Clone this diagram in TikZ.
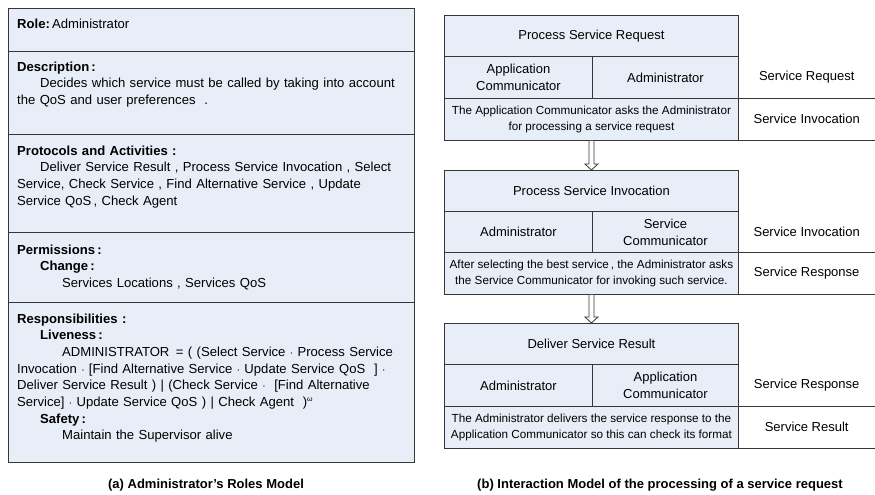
\documentclass[tikz,border=0pt]{standalone}
\usepackage{fontspec}
\setmainfont{Liberation Sans}
\usetikzlibrary{calc}
\definecolor{cellfill}{RGB}{232,238,247}
\definecolor{rulecol}{RGB}{55,55,55}
\newcommand{\omegasup}{\raisebox{5.5pt}{\fontsize{7}{7}\selectfont ω}}
\begin{document}
\begin{tikzpicture}[x=1pt,y=-1pt,
  sect/.style={draw=rulecol, line width=1.1pt, fill=cellfill, anchor=north west,
    inner sep=0pt, minimum width=406pt},
  secttext/.style={anchor=base west, inner sep=0pt, text width=392pt, align=left,
    font=\fontsize{13.1}{16.7}\selectfont},
  cell/.style={draw=rulecol, line width=0.9pt, fill=cellfill, anchor=north west,
    inner sep=0pt, align=center, font=\fontsize{13}{17}\selectfont},
  note/.style={cell, font=\fontsize{11.7}{15.5}\selectfont},
  side/.style={anchor=north west, inner sep=0pt, minimum width=137pt,
    minimum height=42pt, align=center, font=\fontsize{13}{17}\selectfont},
  sideline/.style={draw=rulecol, line width=0.9pt},
  caption/.style={inner sep=0pt, font=\bfseries\fontsize{13}{15}\selectfont},
  hollow/.style={draw=rulecol, line width=0.8pt, fill=white, line join=miter}]

\useasboundingbox (0,0) rectangle (875,495);

% ---------- (a) roles model ----------
\node[sect, minimum height=43pt]  (role) at (8,8)   {};
\node[sect, minimum height=83pt]  (desc) at (8,51)  {};
\node[sect, minimum height=98pt]  (prot) at (8,134) {};
\node[sect, minimum height=70pt]  (perm) at (8,232) {};
\node[sect, minimum height=160pt] (resp) at (8,302) {};

\node[secttext] (roletxt) at (17,29) {\textbf{Role:}\,Administrator};
\node[secttext] (desctxt) at (17,71) {\textbf{Description\,:}\\
  \hspace*{23pt}Decides which service must be called by taking into account\\
  the QoS and user preferences\ \ .};
\node[secttext] (prottxt) at (17,155) {\textbf{Protocols and Activities\ :}\\
  \hspace*{23pt}Deliver Service Result\ , Process Service Invocation\ , Select\\
  Service, Check Service\ , Find Alternative Service\ , Update\\
  Service QoS\,, Check Agent};
\node[secttext] (permtxt) at (17,254) {\textbf{Permissions\,:}\\
  \hspace*{23pt}\textbf{Change\,:}\\
  \hspace*{45pt}Services Locations\ , Services QoS};
\node[secttext] (resptxt) at (17,323) {\textbf{Responsibilities\ :}\\
  \hspace*{23pt}\textbf{Liveness\,:}\\
  \hspace*{45pt}ADMINISTRATOR\ \,= ( (Select Service $\cdot$ Process Service\\
  Invocation $\cdot$\ [Find Alternative Service $\cdot$ Update Service QoS\ \ ] $\cdot$\\
  Deliver Service Result ) | (Check Service $\cdot$\ \ [Find Alternative\\
  Service] $\cdot$ Update Service QoS ) | Check Agent\ \ )\omegasup\\
  \hspace*{23pt}\textbf{Safety\,:}\\
  \hspace*{45pt}Maintain the Supervisor alive};

\node[caption] (capa) at (206,485) {(a) Administrator's Roles Model};

% ---------- (b) interaction model ----------
% Process Service Request
\node[cell, minimum width=294pt, minimum height=41pt] (t1) at (444,15) {Process Service Request};
\node[cell, minimum width=148pt, minimum height=42pt] (a1) at (444,56) {Application\\Communicator};
\node[cell, minimum width=146pt, minimum height=42pt] (b1) at (592,56) {Administrator};
\node[note, minimum width=294pt, minimum height=42pt] (n1) at (444,98)
  {The Application Communicator asks the Administrator\\for processing a service request};
\node[side] (s1) at (738,56) {Service Request};
\node[side] (r1) at (738,98) {Service Invocation};
\draw[sideline] (r1.north west) -- (r1.north east) (r1.south west) -- (r1.south east);

% Process Service Invocation
\node[cell, minimum width=294pt, minimum height=41pt] (t2) at (444,170) {Process Service Invocation};
\node[cell, minimum width=148pt, minimum height=41pt] (a2) at (444,211) {Administrator};
\node[cell, minimum width=146pt, minimum height=41pt] (b2) at (592,211) {Service\\Communicator};
\node[note, minimum width=294pt, minimum height=42pt] (n2) at (444,252)
  {After selecting the best service\,, the Administrator asks\\the Service Communicator for invoking such service.};
\node[side, minimum height=41pt] (s2) at (738,211) {Service Invocation};
\node[side] (r2) at (738,252) {Service Response};
\draw[sideline] (r2.north west) -- (r2.north east) (r2.south west) -- (r2.south east);

% Deliver Service Result
\node[cell, minimum width=294pt, minimum height=41pt] (t3) at (444,323) {Deliver Service Result};
\node[cell, minimum width=148pt, minimum height=42pt] (a3) at (444,364) {Administrator};
\node[cell, minimum width=146pt, minimum height=42pt] (b3) at (592,364) {Application\\Communicator};
\node[note, minimum width=294pt, minimum height=42pt] (n3) at (444,406)
  {The Administrator delivers the service response to the\\Application Communicator so this can check its format};
\node[side] (s3) at (738,364) {Service Response};
\node[side] (r3) at (738,406) {Service Result};
\draw[sideline] (r3.north west) -- (r3.north east) (r3.south west) -- (r3.south east);

% hollow arrows between the interaction steps
\foreach \from/\to in {n1/t2, n2/t3} {
  \draw[hollow] ($(\from.south)+(-2.5,0)$) -- ($(\to.north)+(-2.5,-6)$)
    -- ($(\to.north)+(-6.5,-6)$) -- (\to.north) -- ($(\to.north)+(6.5,-6)$)
    -- ($(\to.north)+(2.5,-6)$) -- ($(\from.south)+(2.5,0)$);
}

\node[caption] (capb) at (660,485) {(b) Interaction Model of the processing of a service request};
\end{tikzpicture}
\end{document}
